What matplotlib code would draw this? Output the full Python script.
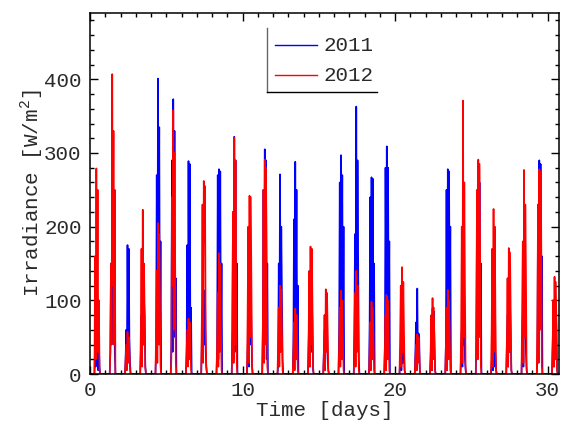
import numpy as np
import matplotlib
matplotlib.use("Agg")
import matplotlib.pyplot as plt
from matplotlib.ticker import MultipleLocator

# Daylight hourly irradiance (W/m^2), hours 7..16 of each day; night hours are zero
hours_of_day = [7, 8, 9, 10, 11, 12, 13, 14, 15, 16]

irr_2011 = [
    [0, 40, 10, 65, 20, 55, 5, 45, 10, 0],
    [0, 30, 150, 40, 182, 60, 140, 90, 30, 0],
    [0, 20, 60, 15, 175, 40, 170, 50, 15, 0],
    [0, 30, 80, 20, 118, 40, 100, 80, 10, 0],
    [0, 30, 270, 60, 401, 150, 335, 40, 180, 0],
    [0, 40, 290, 30, 373, 100, 330, 50, 130, 0],
    [0, 30, 175, 20, 289, 70, 285, 40, 90, 0],
    [0, 40, 85, 30, 114, 40, 110, 30, 10, 0],
    [0, 30, 270, 20, 278, 60, 275, 40, 150, 0],
    [0, 60, 220, 20, 322, 80, 290, 30, 150, 0],
    [0, 30, 70, 10, 145, 40, 130, 60, 10, 0],
    [0, 60, 250, 40, 305, 60, 290, 20, 150, 0],
    [0, 10, 150, 40, 271, 60, 200, 110, 20, 0],
    [0, 40, 210, 20, 288, 80, 250, 40, 120, 0],
    [0, 40, 90, 10, 125, 30, 110, 70, 5, 0],
    [0, 30, 60, 10, 81, 40, 78, 20, 5, 0],
    [0, 60, 260, 20, 297, 100, 270, 40, 200, 0],
    [0, 60, 190, 30, 363, 80, 290, 160, 20, 0],
    [0, 70, 240, 15, 267, 60, 265, 30, 150, 0],
    [0, 40, 280, 110, 309, 20, 280, 70, 180, 0],
    [0, 20, 35, 5, 42, 15, 40, 30, 5, 0],
    [0, 30, 70, 5, 116, 20, 55, 50, 5, 0],
    [0, 20, 60, 5, 89, 20, 85, 40, 5, 0],
    [0, 40, 250, 20, 278, 100, 275, 80, 200, 0],
    [0, 30, 60, 10, 78, 40, 70, 20, 5, 0],
    [0, 40, 230, 20, 273, 100, 260, 60, 150, 0],
    [0, 15, 30, 5, 40, 10, 35, 25, 5, 0],
    [0, 40, 80, 10, 107, 30, 95, 50, 5, 0],
    [0, 40, 80, 10, 96, 50, 90, 30, 5, 0],
    [0, 20, 230, 40, 290, 100, 285, 70, 160, 0],
    [0, 40, 80, 10, 100, 30, 95, 60, 5, 0],
]

irr_2012 = [
    [0, 160, 20, 279, 60, 250, 30, 100, 5, 0],
    [0, 30, 150, 40, 407, 120, 330, 40, 250, 0],
    [0, 20, 40, 5, 57, 15, 50, 30, 5, 0],
    [0, 60, 170, 10, 223, 40, 150, 80, 10, 0],
    [0, 60, 140, 15, 205, 40, 190, 95, 10, 0],
    [0, 20, 240, 120, 358, 60, 300, 150, 15, 0],
    [0, 30, 60, 10, 75, 20, 70, 40, 5, 0],
    [0, 80, 230, 15, 262, 180, 255, 60, 10, 0],
    [0, 40, 110, 10, 164, 30, 150, 60, 5, 0],
    [0, 60, 220, 15, 321, 40, 290, 120, 10, 0],
    [0, 80, 200, 15, 242, 50, 240, 120, 10, 0],
    [0, 70, 250, 15, 291, 40, 280, 150, 10, 0],
    [0, 40, 90, 10, 120, 30, 115, 60, 5, 0],
    [0, 30, 70, 5, 89, 20, 80, 40, 5, 0],
    [0, 50, 140, 10, 173, 40, 170, 100, 10, 0],
    [0, 30, 80, 5, 115, 30, 110, 60, 5, 0],
    [0, 40, 90, 10, 113, 20, 100, 50, 5, 0],
    [0, 50, 110, 10, 140, 30, 120, 70, 5, 0],
    [0, 30, 70, 5, 98, 20, 90, 50, 5, 0],
    [0, 35, 80, 5, 106, 20, 100, 50, 5, 0],
    [0, 50, 120, 10, 145, 30, 125, 60, 5, 0],
    [0, 20, 40, 5, 54, 15, 50, 30, 5, 0],
    [0, 30, 80, 5, 103, 20, 90, 50, 5, 0],
    [0, 40, 90, 5, 114, 20, 100, 50, 5, 0],
    [0, 60, 200, 15, 371, 50, 260, 120, 10, 0],
    [0, 100, 250, 20, 291, 50, 285, 150, 10, 0],
    [0, 60, 170, 10, 224, 30, 200, 80, 5, 0],
    [0, 50, 130, 10, 171, 30, 165, 80, 5, 0],
    [0, 90, 180, 15, 277, 50, 230, 140, 10, 0],
    [0, 80, 230, 15, 278, 60, 275, 200, 10, 0],
    [0, 40, 100, 10, 132, 20, 125, 60, 5, 0],
]

series_labels = ["2011", "2012"]
series_colors = ["#0000ff", "#ff0000"]
x_ticks = [0, 10, 20, 30]
y_ticks = [0, 100, 200, 300, 400]


def hourly_series(daily):
    n_days = len(daily)
    t = np.arange(n_days * 24) / 24.0
    v = np.zeros(n_days * 24)
    for d, vals in enumerate(daily):
        for h, val in zip(hours_of_day, vals):
            v[d * 24 + h] = val
    return t, v


plt.rcParams['font.family'] = ['Liberation Mono', 'DejaVu Sans Mono']
plt.rcParams['mathtext.fontset'] = 'custom'
plt.rcParams['mathtext.rm'] = 'Liberation Mono'

TXT = '#2a2a2a'

fig = plt.figure(figsize=(5.61, 4.21), dpi=100)
ax = fig.add_axes([90 / 561, 47 / 421, 469 / 561, 361 / 421])

for data, lab, col in zip([irr_2011, irr_2012], series_labels, series_colors):
    t, v = hourly_series(data)
    ax.plot(t, v, color=col, lw=1.2, label=lab)

ax.set_xlim(0, 30.75)
ax.set_ylim(0, 490)
ax.set_xticks(x_ticks)
ax.set_yticks(y_ticks)
ax.xaxis.set_minor_locator(MultipleLocator(1))
ax.yaxis.set_minor_locator(MultipleLocator(20))
ax.tick_params(which='both', direction='in', top=True, right=True, width=1.0,
               labelsize=15, colors='black', labelcolor=TXT)
ax.tick_params(which='major', length=6)
ax.tick_params(which='minor', length=3)
ax.tick_params(axis='y', pad=6)
ax.tick_params(axis='x', pad=5)
for s in ax.spines.values():
    s.set_linewidth(1.1)

ax.set_xlabel("Time [days]", fontsize=15, labelpad=1, color=TXT)
ax.set_ylabel("Irradiance [W/m$^2$]", fontsize=15, labelpad=-1, color=TXT)

# IDL-style legend
lines = ax.get_lines()
for ln, yy in zip(lines, [0.911, 0.828]):
    ax.plot([0.394, 0.484], [yy, yy], color=ln.get_color(), lw=1.0,
            transform=ax.transAxes, clip_on=False)
    ax.text(0.497, yy, ln.get_label(), transform=ax.transAxes, fontsize=15,
            va='center', ha='left', color=TXT)
ax.plot([0.377, 0.377], [0.958, 0.781], color='#666666', lw=1.0, transform=ax.transAxes)
ax.plot([0.377, 0.612], [0.781, 0.781], color='black', lw=1.0, transform=ax.transAxes)

fig.savefig("out.png", dpi=100)
